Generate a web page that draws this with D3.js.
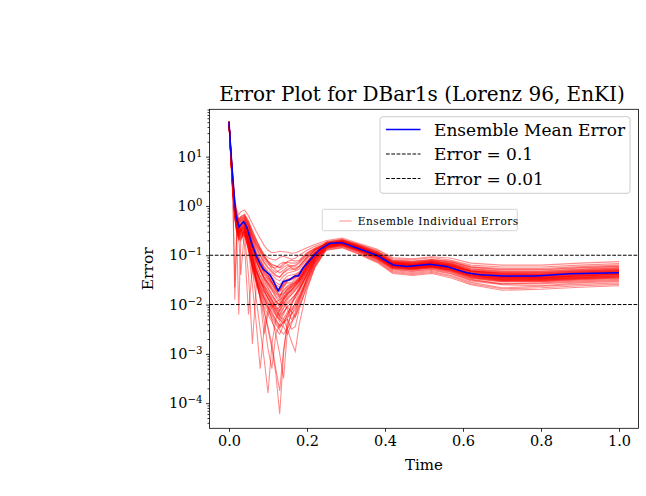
<!DOCTYPE html>
<html lang="en">
<head>
<meta charset="UTF-8">
<title>Error Plot for DBar1s</title>
<script src="https://cdn.jsdelivr.net/npm/d3@7"></script>
<style>
  body { margin: 0; background: #fff; }
  svg { display: block; font-family: "DejaVu Serif", serif; }
</style>
</head>
<body>
<div id="chart"></div>
<script>
// ensemble mean error (blue line)
var meanTime = [0, 0.007, 0.013, 0.018, 0.026, 0.037, 0.045, 0.058, 0.071, 0.08,
  0.088, 0.105, 0.113, 0.126, 0.139, 0.156, 0.169, 0.178, 0.19, 0.208,
  0.233, 0.259, 0.289, 0.319, 0.349, 0.379, 0.421, 0.456, 0.49, 0.515,
  0.558, 0.609, 0.644, 0.703, 0.789, 0.874, 1.0];
var meanError = [50, 7.3, 1.8, 0.61, 0.37, 0.48, 0.38, 0.175, 0.094, 0.067,
  0.052, 0.040, 0.031, 0.019, 0.029, 0.032, 0.038, 0.038, 0.055, 0.080,
  0.132, 0.175, 0.18, 0.149, 0.122, 0.10, 0.0635, 0.059, 0.063, 0.066,
  0.059, 0.044, 0.040, 0.038, 0.038, 0.042, 0.044];

// time grid of the individual ensemble members
var memberTime = [0, 0.005, 0.01, 0.015, 0.02, 0.025, 0.03, 0.04, 0.05, 0.06, 0.07, 0.08,
  0.09, 0.1, 0.11, 0.12, 0.13, 0.14, 0.15, 0.16, 0.17, 0.18, 0.2, 0.22,
  0.25, 0.29, 0.33, 0.38, 0.42, 0.47, 0.52, 0.57, 0.62, 0.7, 0.8, 0.9, 1.0];

// individual member errors, read as log10(error), one row per member
var memberLog10 = [
  [1.72,1.15,0.60,0.12,-0.08,-0.18,-0.12,-0.08,-0.20,-0.36,-0.52,-0.66,-0.80,-0.90,-0.95,-0.94,-0.92,-0.93,-0.94,-0.96,-0.95,-0.92,-0.85,-0.78,-0.70,-0.65,-0.75,-0.88,-1.05,-1.07,-1.03,-1.06,-1.16,-1.20,-1.20,-1.16,-1.13],
  [1.70,1.10,0.52,0.02,-0.18,-0.30,-0.22,-0.18,-0.30,-0.50,-0.68,-0.85,-0.98,-1.05,-1.08,-1.10,-1.04,-1.02,-1.05,-1.08,-1.06,-1.00,-0.90,-0.82,-0.73,-0.68,-0.78,-0.92,-1.09,-1.12,-1.08,-1.12,-1.23,-1.27,-1.27,-1.23,-1.20],
  [1.71,1.06,0.48,-0.02,-0.22,-0.35,-0.30,-0.25,-0.40,-0.62,-0.80,-0.95,-1.10,-1.18,-1.24,-1.26,-1.18,-1.14,-1.18,-1.22,-1.20,-1.14,-0.98,-0.88,-0.77,-0.72,-0.82,-0.97,-1.15,-1.18,-1.14,-1.19,-1.31,-1.36,-1.36,-1.32,-1.29],
  [1.69,1.12,0.55,0.05,-0.15,-0.28,-0.25,-0.20,-0.35,-0.55,-0.72,-0.88,-1.02,-1.12,-1.18,-1.22,-1.26,-1.20,-1.12,-1.10,-1.12,-1.10,-0.95,-0.86,-0.75,-0.70,-0.81,-0.95,-1.13,-1.15,-1.11,-1.16,-1.27,-1.32,-1.32,-1.28,-1.25],
  [1.70,1.08,0.50,0.00,-0.20,-0.32,-0.28,-0.22,-0.38,-0.60,-0.78,-0.92,-1.05,-1.15,-1.28,-1.35,-1.30,-1.24,-1.20,-1.26,-1.30,-1.24,-1.05,-0.90,-0.80,-0.75,-0.86,-1.02,-1.21,-1.24,-1.20,-1.26,-1.39,-1.45,-1.45,-1.41,-1.38],
  [1.71,1.09,0.51,0.01,-0.19,-0.31,-0.26,-0.21,-0.36,-0.58,-0.76,-0.90,-1.04,-1.14,-1.20,-1.22,-1.24,-1.16,-1.14,-1.16,-1.16,-1.12,-0.96,-0.86,-0.77,-0.72,-0.83,-0.98,-1.16,-1.19,-1.15,-1.21,-1.32,-1.37,-1.39,-1.34,-1.31],
  [1.70,1.04,0.42,-0.06,-0.28,-0.42,-0.40,-0.33,-0.50,-0.78,-1.00,-1.15,-1.28,-1.38,-1.50,-1.60,-1.65,-1.52,-1.48,-1.46,-1.42,-1.38,-1.15,-0.95,-0.79,-0.74,-0.85,-1.00,-1.19,-1.22,-1.18,-1.24,-1.36,-1.42,-1.42,-1.38,-1.35],
  [1.69,0.98,0.35,-0.15,-0.38,-0.50,-0.48,-0.40,-0.60,-0.90,-1.15,-1.30,-1.45,-1.55,-1.66,-1.76,-1.82,-1.70,-1.62,-1.58,-1.52,-1.45,-1.20,-1.00,-0.81,-0.76,-0.87,-1.02,-1.22,-1.25,-1.21,-1.27,-1.40,-1.46,-1.46,-1.42,-1.39],
  [1.71,1.02,0.40,-0.10,-0.32,-0.46,-0.44,-0.36,-0.55,-0.85,-1.08,-1.22,-1.36,-1.48,-1.58,-1.70,-1.75,-1.62,-1.56,-1.56,-1.48,-1.42,-1.18,-0.98,-0.78,-0.73,-0.84,-0.99,-1.18,-1.21,-1.17,-1.22,-1.34,-1.40,-1.40,-1.36,-1.33],
  [1.70,1.00,0.38,-0.12,-0.35,-0.48,-0.42,-0.38,-0.55,-0.82,-1.05,-1.25,-1.40,-1.50,-1.62,-1.72,-1.80,-1.78,-1.68,-1.60,-1.56,-1.50,-1.25,-1.02,-0.82,-0.77,-0.88,-1.04,-1.24,-1.27,-1.23,-1.30,-1.42,-1.49,-1.49,-1.45,-1.42],
  [1.72,1.06,0.46,-0.04,-0.26,-0.40,-0.36,-0.30,-0.48,-0.75,-0.98,-1.12,-1.26,-1.36,-1.45,-1.55,-1.60,-1.50,-1.42,-1.40,-1.38,-1.34,-1.12,-0.94,-0.76,-0.71,-0.81,-0.96,-1.14,-1.16,-1.12,-1.18,-1.29,-1.34,-1.34,-1.30,-1.27],
  [1.70,1.03,0.44,-0.08,-0.30,-0.44,-0.38,-0.32,-0.52,-0.82,-1.10,-1.30,-1.48,-1.60,-1.72,-1.85,-1.95,-1.80,-1.70,-1.64,-1.56,-1.48,-1.22,-0.98,-0.80,-0.75,-0.86,-1.01,-1.20,-1.23,-1.19,-1.26,-1.38,-1.44,-1.44,-1.40,-1.37],
  [1.71,1.05,0.46,-0.05,-0.25,-0.38,-0.34,-0.28,-0.45,-0.70,-0.92,-1.08,-1.22,-1.32,-1.40,-1.48,-1.52,-1.42,-1.36,-1.34,-1.32,-1.28,-1.08,-0.92,-0.74,-0.69,-0.80,-0.93,-1.11,-1.14,-1.10,-1.14,-1.25,-1.30,-1.30,-1.26,-1.23],
  [1.70,0.95,0.30,-0.20,-0.45,-0.60,-0.55,-0.50,-0.75,-1.10,-1.40,-1.60,-1.80,-1.95,-2.05,-2.20,-2.35,-2.20,-2.00,-1.90,-1.80,-1.70,-1.40,-1.10,-0.83,-0.78,-0.90,-1.06,-1.26,-1.29,-1.25,-1.32,-1.45,-1.52,-1.52,-1.48,-1.45],
  [1.68,0.92,0.25,-0.28,-0.55,-0.70,-0.65,-0.60,-0.90,-1.30,-1.60,-1.85,-2.05,-2.20,-2.35,-2.50,-2.60,-2.40,-2.25,-2.20,-2.10,-1.90,-1.55,-1.20,-0.85,-0.80,-0.91,-1.08,-1.28,-1.32,-1.28,-1.35,-1.49,-1.58,-1.56,-1.52,-1.49],
  [1.70,0.96,0.32,-0.18,-0.42,-0.58,-0.60,-0.52,-0.80,-1.20,-1.45,-1.65,-1.75,-1.85,-2.00,-2.10,-2.05,-1.95,-2.10,-2.30,-2.20,-1.95,-1.45,-1.12,-0.78,-0.73,-0.84,-0.98,-1.17,-1.20,-1.16,-1.22,-1.33,-1.39,-1.39,-1.35,-1.32],
  [1.69,0.94,0.28,-0.22,-0.50,-0.64,-0.58,-0.55,-0.85,-1.20,-1.50,-1.72,-1.90,-2.05,-2.15,-2.30,-2.45,-2.35,-2.30,-2.50,-2.45,-2.10,-1.60,-1.22,-0.87,-0.82,-0.94,-1.12,-1.33,-1.37,-1.33,-1.41,-1.55,-1.66,-1.63,-1.59,-1.56],
  [1.71,0.97,0.34,-0.16,-0.40,-0.55,-0.52,-0.46,-0.70,-1.05,-1.30,-1.50,-1.68,-1.80,-1.92,-2.05,-2.15,-1.98,-1.85,-1.75,-1.68,-1.60,-1.32,-1.05,-0.81,-0.76,-0.87,-1.03,-1.22,-1.26,-1.22,-1.28,-1.41,-1.47,-1.47,-1.43,-1.40],
  [1.70,0.93,0.27,-0.25,-0.52,-0.68,-0.62,-0.58,-0.88,-1.25,-1.55,-1.78,-1.98,-2.12,-2.28,-2.40,-2.52,-2.60,-2.48,-2.35,-2.25,-2.05,-1.65,-1.25,-0.86,-0.81,-0.93,-1.10,-1.31,-1.35,-1.31,-1.38,-1.52,-1.60,-1.62,-1.56,-1.53],
  [1.70,0.96,0.31,-0.19,-0.44,-0.58,-0.54,-0.48,-0.78,-1.15,-1.45,-1.68,-1.88,-2.02,-2.18,-2.32,-2.42,-2.28,-2.15,-2.08,-1.98,-1.82,-1.45,-1.12,-0.81,-0.76,-0.88,-1.03,-1.23,-1.26,-1.22,-1.29,-1.41,-1.48,-1.48,-1.44,-1.41],
  [1.69,0.94,0.29,-0.22,-0.48,-0.62,-0.57,-0.53,-0.82,-1.18,-1.48,-1.70,-1.85,-1.98,-2.10,-2.22,-2.30,-2.15,-2.05,-2.15,-2.25,-2.00,-1.55,-1.18,-0.83,-0.78,-0.89,-1.05,-1.25,-1.28,-1.24,-1.31,-1.44,-1.51,-1.51,-1.47,-1.44],
  [1.70,1.00,0.38,-0.10,-0.35,-0.50,-0.45,-0.40,-0.70,-1.10,-1.50,-1.80,-2.10,-2.50,-2.90,-3.40,-4.22,-3.00,-2.30,-2.00,-1.80,-1.65,-1.35,-1.05,-0.79,-0.74,-0.85,-1.01,-1.20,-1.23,-1.19,-1.25,-1.37,-1.43,-1.43,-1.39,-1.36],
  [1.70,0.98,0.36,-0.14,-0.40,-0.55,-0.50,-0.45,-0.80,-1.30,-1.90,-2.50,-3.10,-3.80,-2.80,-2.30,-2.10,-1.90,-1.80,-1.70,-1.60,-1.50,-1.25,-1.00,-0.77,-0.72,-0.83,-0.97,-1.16,-1.19,-1.14,-1.20,-1.32,-1.37,-1.37,-1.33,-1.30],
  [1.69,0.96,0.33,-0.18,-0.44,-0.58,-0.52,-0.50,-0.90,-1.60,-2.40,-3.30,-2.50,-2.10,-2.00,-1.95,-1.90,-1.85,-1.75,-1.65,-1.60,-1.52,-1.28,-1.02,-0.82,-0.77,-0.89,-1.04,-1.24,-1.28,-1.24,-1.30,-1.43,-1.50,-1.50,-1.46,-1.43],
  [1.70,1.00,0.20,-1.65,-0.40,-0.35,-0.38,-0.36,-0.55,-0.82,-1.05,-1.20,-1.32,-1.42,-1.55,-1.68,-1.72,-1.60,-1.52,-1.50,-1.45,-1.40,-1.16,-0.96,-0.79,-0.74,-0.85,-0.99,-1.18,-1.21,-1.17,-1.23,-1.35,-1.41,-1.41,-1.37,-1.34],
  [1.71,1.02,0.40,-0.15,-0.60,-2.20,-0.70,-0.45,-0.62,-0.95,-1.20,-1.40,-1.55,-1.68,-1.80,-1.92,-2.00,-1.85,-1.72,-1.65,-1.58,-1.50,-1.22,-1.00,-0.84,-0.79,-0.90,-1.07,-1.27,-1.30,-1.26,-1.34,-1.47,-1.54,-1.54,-1.50,-1.47],
  [1.70,0.97,0.34,-0.16,-0.42,-0.56,-0.50,-0.45,-0.68,-1.00,-1.28,-1.50,-1.70,-1.88,-2.00,-2.15,-2.25,-2.30,-2.50,-2.75,-2.95,-2.40,-1.70,-1.25,-0.89,-0.84,-0.96,-1.13,-1.35,-1.39,-1.35,-1.43,-1.58,-1.68,-1.66,-1.62,-1.59],
  [1.70,0.99,0.37,-0.12,-0.38,-0.52,-0.48,-0.60,-1.40,-2.80,-1.60,-1.55,-1.65,-1.78,-1.90,-2.05,-2.20,-2.05,-1.90,-1.80,-1.70,-1.58,-1.30,-1.05,-0.74,-0.69,-0.79,-0.93,-1.11,-1.13,-1.09,-1.14,-1.24,-1.29,-1.29,-1.25,-1.22],
  [1.69,0.95,0.30,-0.20,-0.46,-0.62,-0.56,-0.52,-0.82,-1.20,-1.55,-1.85,-2.15,-2.45,-2.80,-3.30,-3.75,-2.90,-2.40,-2.20,-2.05,-1.85,-1.48,-1.15,-0.85,-0.80,-0.92,-1.09,-1.29,-1.33,-1.29,-1.37,-1.50,-1.58,-1.58,-1.54,-1.51],
  [1.70,0.90,0.10,-1.90,-0.60,-0.55,-0.70,-0.50,-0.72,-1.05,-1.32,-1.50,-1.62,-1.72,-1.85,-1.95,-2.05,-1.92,-1.80,-1.72,-1.65,-1.55,-1.28,-1.02,-0.90,-0.85,-0.97,-1.15,-1.37,-1.41,-1.37,-1.46,-1.60,-1.71,-1.69,-1.65,-1.62],
  [1.71,1.01,0.39,-0.10,-0.36,-0.50,-0.46,-0.80,-2.20,-1.20,-1.35,-1.50,-1.65,-1.80,-1.95,-2.10,-2.25,-2.15,-2.05,-1.95,-1.85,-1.70,-1.38,-1.08,-0.72,-0.67,-0.77,-0.90,-1.07,-1.09,-1.05,-1.10,-1.20,-1.24,-1.24,-1.20,-1.17],
  [1.70,0.97,0.34,-0.15,-0.40,-0.54,-0.48,-0.42,-0.72,-1.15,-1.50,-1.85,-2.30,-2.90,-3.30,-2.60,-2.40,-2.45,-2.60,-2.40,-2.15,-1.90,-1.50,-1.15,-0.80,-0.75,-0.86,-1.02,-1.21,-1.24,-1.20,-1.27,-1.39,-1.45,-1.46,-1.41,-1.38],
  [1.70,0.99,0.36,-0.12,-0.38,-0.52,-0.46,-0.42,-0.66,-1.00,-1.35,-1.62,-1.85,-2.05,-2.30,-2.60,-3.00,-3.50,-2.50,-2.15,-1.95,-1.75,-1.40,-1.08,-0.77,-0.72,-0.83,-0.98,-1.16,-1.19,-1.15,-1.21,-1.32,-1.38,-1.38,-1.34,-1.31],
  [1.71,1.07,0.47,-0.03,-0.24,-0.36,-0.32,-0.26,-0.42,-0.66,-0.86,-1.02,-1.16,-1.26,-1.35,-1.42,-1.45,-1.36,-1.30,-1.30,-1.28,-1.22,-1.04,-0.90,-0.76,-0.71,-0.82,-0.96,-1.14,-1.17,-1.13,-1.18,-1.30,-1.35,-1.35,-1.31,-1.28],
  [1.70,1.01,0.39,-0.11,-0.34,-0.47,-0.45,-0.37,-0.58,-0.88,-1.12,-1.32,-1.50,-1.65,-1.80,-1.92,-2.02,-1.88,-1.76,-1.70,-1.62,-1.52,-1.25,-1.00,-0.80,-0.76,-0.87,-1.02,-1.22,-1.24,-1.21,-1.27,-1.38,-1.44,-1.46,-1.42,-1.38],
  [1.69,1.03,0.43,-0.07,-0.29,-0.43,-0.39,-0.34,-0.52,-0.80,-1.03,-1.20,-1.35,-1.46,-1.56,-1.66,-1.72,-1.58,-1.50,-1.48,-1.44,-1.38,-1.14,-0.95,-0.77,-0.72,-0.82,-0.97,-1.15,-1.18,-1.15,-1.21,-1.32,-1.36,-1.36,-1.32,-1.29],
  [1.70,0.99,0.36,-0.14,-0.38,-0.52,-0.50,-0.42,-0.64,-0.96,-1.22,-1.42,-1.60,-1.75,-1.90,-2.02,-2.12,-1.98,-1.86,-1.80,-1.72,-1.62,-1.32,-1.05,-0.81,-0.76,-0.88,-1.03,-1.23,-1.26,-1.22,-1.29,-1.41,-1.48,-1.48,-1.44,-1.41],
  [1.71,1.04,0.44,-0.06,-0.27,-0.40,-0.37,-0.31,-0.50,-0.78,-1.02,-1.18,-1.32,-1.42,-1.54,-1.64,-1.70,-1.56,-1.50,-1.48,-1.44,-1.40,-1.16,-0.96,-0.78,-0.73,-0.84,-0.99,-1.17,-1.20,-1.17,-1.23,-1.35,-1.40,-1.41,-1.37,-1.33],
  [1.69,0.97,0.33,-0.17,-0.42,-0.56,-0.53,-0.47,-0.72,-1.08,-1.36,-1.56,-1.74,-1.88,-2.00,-2.12,-2.22,-2.08,-1.95,-1.88,-1.80,-1.68,-1.38,-1.08,-0.83,-0.78,-0.89,-1.05,-1.25,-1.28,-1.24,-1.31,-1.44,-1.51,-1.51,-1.47,-1.44],
  [1.70,1.02,0.41,-0.09,-0.31,-0.45,-0.43,-0.35,-0.54,-0.84,-1.10,-1.28,-1.44,-1.56,-1.68,-1.78,-1.86,-1.72,-1.64,-1.60,-1.54,-1.46,-1.20,-0.98,-0.79,-0.74,-0.85,-1.01,-1.20,-1.23,-1.19,-1.25,-1.37,-1.43,-1.43,-1.39,-1.36],
  [1.72,1.08,0.49,-0.01,-0.22,-0.34,-0.30,-0.24,-0.40,-0.64,-0.84,-1.00,-1.14,-1.24,-1.32,-1.40,-1.44,-1.34,-1.28,-1.26,-1.26,-1.22,-1.04,-0.90,-0.75,-0.70,-0.81,-0.95,-1.13,-1.16,-1.12,-1.17,-1.28,-1.33,-1.33,-1.29,-1.26],
  [1.70,0.98,0.35,-0.15,-0.40,-0.54,-0.50,-0.44,-0.68,-1.02,-1.30,-1.52,-1.72,-1.88,-2.04,-2.18,-2.30,-2.38,-2.20,-2.00,-1.86,-1.70,-1.38,-1.08,-0.81,-0.76,-0.87,-1.02,-1.22,-1.25,-1.21,-1.27,-1.40,-1.46,-1.46,-1.42,-1.39],
  [1.70,1.05,0.45,-0.05,-0.26,-0.39,-0.36,-0.30,-0.46,-0.72,-0.95,-1.10,-1.25,-1.38,-1.55,-1.70,-1.85,-1.65,-1.52,-1.46,-1.40,-1.36,-1.14,-0.95,-0.79,-0.74,-0.85,-1.00,-1.20,-1.22,-1.18,-1.25,-1.37,-1.42,-1.41,-1.37,-1.34],
  [1.68,0.93,0.26,-0.26,-0.52,-0.66,-0.62,-0.56,-0.86,-1.24,-1.52,-1.74,-1.94,-2.08,-2.22,-2.36,-2.48,-2.34,-2.20,-2.12,-2.02,-1.86,-1.50,-1.15,-0.83,-0.78,-0.90,-1.06,-1.26,-1.30,-1.26,-1.33,-1.46,-1.53,-1.53,-1.49,-1.46],
  [1.71,1.10,0.53,0.04,-0.14,-0.26,-0.22,-0.17,-0.32,-0.52,-0.70,-0.86,-1.00,-1.12,-1.22,-1.30,-1.36,-1.30,-1.24,-1.22,-1.22,-1.16,-1.00,-0.88,-0.78,-0.73,-0.84,-0.98,-1.17,-1.20,-1.16,-1.22,-1.33,-1.39,-1.39,-1.35,-1.32],
  [1.70,1.00,0.37,-0.13,-0.37,-0.50,-0.47,-0.41,-0.66,-1.05,-1.45,-1.90,-2.60,-2.20,-2.05,-2.00,-1.98,-1.88,-1.78,-1.70,-1.62,-1.54,-1.28,-1.02,-0.82,-0.77,-0.88,-1.04,-1.24,-1.27,-1.23,-1.30,-1.42,-1.49,-1.49,-1.45,-1.42],
  [1.70,1.01,0.39,-0.12,-0.36,-0.55,-1.40,-0.50,-0.60,-0.88,-1.12,-1.30,-1.46,-1.58,-1.70,-1.82,-1.90,-1.78,-1.68,-1.62,-1.55,-1.47,-1.21,-0.98,-0.80,-0.75,-0.86,-1.01,-1.20,-1.23,-1.19,-1.26,-1.38,-1.44,-1.44,-1.40,-1.37]
];

var refLevels = [0.1, 0.01];
var refLabels = ["Error = 0.1", "Error = 0.01"];
var xTicks = [0, 0.2, 0.4, 0.6, 0.8, 1.0];
var yTicks = [1e-4, 1e-3, 1e-2, 1e-1, 1e0, 1e1];

var width = 646, height = 496;
var plot = {l: 209.5, r: 638.5, t: 109.3, b: 428.3};

var svg = d3.select("#chart").append("svg")
    .attr("width", width).attr("height", height);

var x = d3.scaleLinear().domain([-0.05, 1.05]).range([plot.l, plot.r]);
var y = d3.scaleLog().domain([Math.pow(10, -4.51), Math.pow(10, 1.96)]).range([plot.b, plot.t]);

svg.append("clipPath").attr("id", "clip")
  .append("rect").attr("x", plot.l).attr("y", plot.t)
  .attr("width", plot.r - plot.l).attr("height", plot.b - plot.t);

var body = svg.append("g").attr("clip-path", "url(#clip)");

// individual members
var memberLine = d3.line()
    .x(function(d, i) { return x(memberTime[i]); })
    .y(function(d) { return y(Math.pow(10, d)); });
body.append("g").selectAll("path").data(memberLog10).join("path")
    .attr("d", memberLine)
    .attr("fill", "none").attr("stroke", "#ff0000")
    .attr("stroke-opacity", 0.45).attr("stroke-width", 1.1);

// mean error
var meanLine = d3.line()
    .x(function(d, i) { return x(meanTime[i]); })
    .y(function(d) { return y(d); });
body.append("path").datum(meanError)
    .attr("d", meanLine)
    .attr("fill", "none").attr("stroke", "#0000ff").attr("stroke-width", 1.5);

// reference levels
body.selectAll("line.ref").data(refLevels).join("line")
    .attr("class", "ref")
    .attr("x1", plot.l).attr("x2", plot.r)
    .attr("y1", function(d) { return y(d); }).attr("y2", function(d) { return y(d); })
    .attr("stroke", "black").attr("stroke-width", 1).attr("stroke-dasharray", "3.7,1.6");

// axes
var xAxis = svg.append("g").attr("transform", "translate(0," + plot.b + ")")
    .call(d3.axisBottom(x).tickValues(xTicks).tickFormat(d3.format(".1f"))
      .tickSize(3.5).tickPadding(3.5));
var yAxis = svg.append("g").attr("transform", "translate(" + plot.l + ",0)")
    .call(d3.axisLeft(y).tickValues(yTicks).tickSize(3.5).tickPadding(3.5));
var yMinor = y.ticks().filter(function(d) {
  var l = Math.log10(d); return Math.abs(l - Math.round(l)) > 1e-6;
});
svg.append("g").attr("transform", "translate(" + plot.l + ",0)")
    .call(d3.axisLeft(y).tickValues(yMinor).tickSize(2).tickFormat(""))
    .call(function(g) { g.select(".domain").remove(); });

[xAxis, yAxis].forEach(function(g) {
  g.select(".domain").remove();
  g.selectAll("text").attr("font-size", 14.5).attr("fill", "black")
    .attr("font-family", "DejaVu Serif");
});
svg.selectAll(".tick line").attr("stroke", "black").attr("stroke-width", 0.8);

yAxis.selectAll(".tick text").each(function(d) {
  var t = d3.select(this);
  var e = Math.round(Math.log10(d));
  t.text("10");
  t.append("tspan").attr("dy", "-0.5em").attr("font-size", "0.7em")
    .text(e < 0 ? "\u2212" + (-e) : String(e));
});

// frame
svg.append("rect").attr("x", plot.l).attr("y", plot.t)
  .attr("width", plot.r - plot.l).attr("height", plot.b - plot.t)
  .attr("fill", "none").attr("stroke", "black").attr("stroke-width", 0.8);

// labels
svg.append("text").attr("x", 422).attr("y", 101)
  .attr("text-anchor", "middle").attr("font-size", 20)
  .text("Error Plot for DBar1s (Lorenz 96, EnKI)");
svg.append("text").attr("x", (plot.l + plot.r) / 2).attr("y", 470)
  .attr("text-anchor", "middle").attr("font-size", 15).text("Time");
svg.append("text").attr("transform", "translate(152.5," + (plot.t + plot.b) / 2 + ") rotate(-90)")
  .attr("text-anchor", "middle").attr("font-size", 15.5).text("Error");

// main legend
var legendRows = [
  {label: "Ensemble Mean Error", color: "#0000ff", width: 1.5, dash: null},
  {label: refLabels[0], color: "black", width: 1, dash: "3.7,1.6"},
  {label: refLabels[1], color: "black", width: 1, dash: "3.7,1.6"}
];
var leg = svg.append("g");
leg.append("rect").attr("x", 380).attr("y", 116.7).attr("width", 250).attr("height", 76.6)
  .attr("rx", 3).attr("fill", "white").attr("fill-opacity", 0.8)
  .attr("stroke", "#cccccc").attr("stroke-width", 1);
var rows = leg.selectAll("g.row").data(legendRows).join("g")
  .attr("transform", function(d, i) { return "translate(0," + (129.5 + i * 24.5) + ")"; });
rows.append("line").attr("x1", 386).attr("x2", 420.5)
  .attr("stroke", function(d) { return d.color; })
  .attr("stroke-width", function(d) { return d.width; })
  .attr("stroke-dasharray", function(d) { return d.dash; });
rows.append("text").attr("x", 434).attr("dy", "0.36em").attr("font-size", 17)
  .text(function(d) { return d.label; });

// members legend
var leg2 = svg.append("g");
leg2.append("rect").attr("x", 322.3).attr("y", 209.3).attr("width", 195).attr("height", 21.4)
  .attr("rx", 1).attr("fill", "white").attr("fill-opacity", 0.8)
  .attr("stroke", "#d5d5d5").attr("stroke-width", 1);
leg2.append("line").attr("x1", 339.3).attr("x2", 351.7).attr("y1", 221).attr("y2", 221)
  .attr("stroke", "#ff0000").attr("stroke-opacity", 0.45).attr("stroke-width", 1);
leg2.append("text").attr("x", 357.7).attr("y", 224.5).attr("font-size", 10.5)
  .attr("letter-spacing", 0.55).text("Ensemble Individual Errors");
</script>
</body>
</html>
